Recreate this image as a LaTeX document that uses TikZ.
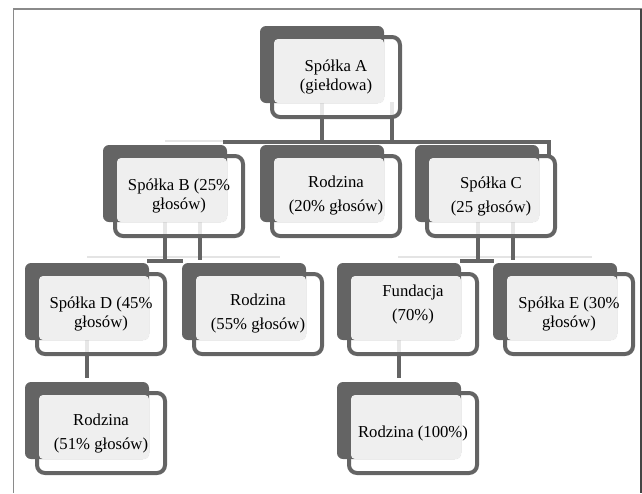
\documentclass[tikz,border=0pt]{standalone}
\usepackage{fontspec}
\setmainfont{Liberation Serif}
\definecolor{dk}{HTML}{646464}
\definecolor{lt}{HTML}{EFEFEF}
\definecolor{pl}{HTML}{E4E4E4}
\definecolor{fr}{HTML}{8A8A8A}
\definecolor{frr}{HTML}{444444}
\tikzset{
  frontbox/.style={draw=dk, line width=4pt, fill=white, fill opacity=0.85, rounded corners=8pt},
  backbox/.style={fill=dk, rounded corners=6pt},
  lightbox/.style={fill=lt, rounded corners=4pt},
  txt/.style={align=center, font=\fontsize{16.7}{19}\selectfont, inner sep=0pt},
  conn/.style={draw=dk, line width=4pt},
  paleline/.style={draw=pl, line width=2pt},
}
\newcommand{\orgbox}[5][0]{%
  \draw[frontbox] (#3+12,#4+11) rectangle (#3+140,#4+91);
  \fill[backbox] (#3,#4) rectangle (#3+124,#4+77);
  \fill[lightbox] (#3+14,#4+13) rectangle (#3+124,#4+77);
  \node[txt] (#2) at (#3+76,#4+51+#1) {#5};
}
\begin{document}
\begin{tikzpicture}[x=1pt,y=-1pt]
\useasboundingbox (0,0) rectangle (642,493);
% frame
\draw[fr, line width=1.5pt] (13,9) -- (642,9);
\draw[fr, line width=1pt] (13,9) -- (13,493);
\draw[frr, line width=1.5pt] (641,9) -- (641,493);
% connector coordinates
\coordinate (a1) at (322,102); \coordinate (a1b) at (322,142);
\coordinate (a2) at (392,102); \coordinate (a2b) at (392,142);
\coordinate (bus1l) at (223,142); \coordinate (bus1r) at (549,142); \coordinate (bus1d) at (549,156);
\coordinate (p1l) at (165,140.5); \coordinate (p1r) at (223,140.5);
\coordinate (b1) at (165,222); \coordinate (b1b) at (165,260);
\coordinate (b2) at (200,222); \coordinate (b2b) at (200,260);
\coordinate (bus2l) at (147,260.5); \coordinate (bus2r) at (183,260.5);
\coordinate (p2l) at (87,257); \coordinate (p2r) at (280,257);
\coordinate (c1) at (478,222); \coordinate (c1b) at (478,260);
\coordinate (c2) at (513,222); \coordinate (c2b) at (513,260);
\coordinate (bus3l) at (460,260.5); \coordinate (bus3r) at (494,260.5);
\coordinate (p3l) at (398,257); \coordinate (p3r) at (592,257);
\coordinate (d1) at (87,340); \coordinate (d1b) at (87,378);
\coordinate (f1) at (399,340); \coordinate (f1b) at (399,378);
% connectors
\draw[paleline] (p1l) -- (p1r);
\draw[paleline] (p2l) -- (p2r);
\draw[paleline] (p3l) -- (p3r);
\draw[conn] (a1) -- (a1b);
\draw[conn] (a2) -- (a2b);
\draw[conn] (bus1l) -- (bus1r) -- (bus1d);
\draw[conn] (b1) -- (b1b);
\draw[conn] (b2) -- (b2b);
\draw[conn] (bus2l) -- (bus2r);
\draw[conn] (c1) -- (c1b);
\draw[conn] (c2) -- (c2b);
\draw[conn] (bus3l) -- (bus3r);
\draw[conn] (d1) -- (d1b);
\draw[conn] (f1) -- (f1b);
% boxes
\orgbox{A}{260}{26}{Spółka A\\(giełdowa)}
\orgbox{B}{103}{145}{Spółka B (25\%\\głosów)}
\orgbox{R20}{260}{145}{Rodzina\\[5pt](20\% głosów)}
\orgbox{C}{415}{145}{Spółka C\\[5pt](25 głosów)}
\orgbox{D}{25}{263}{Spółka D (45\%\\głosów)}
\orgbox{R55}{182}{263}{Rodzina\\[5pt](55\% głosów)}
\orgbox[-10]{F}{337}{263}{Fundacja\\[5pt](70\%)}
\orgbox{E}{493}{263}{Spółka E (30\%\\głosów)}
\orgbox{R51}{25}{382}{Rodzina\\[5pt](51\% głosów)}
\orgbox{R100}{337}{382}{Rodzina (100\%)}
\end{tikzpicture}
\end{document}
